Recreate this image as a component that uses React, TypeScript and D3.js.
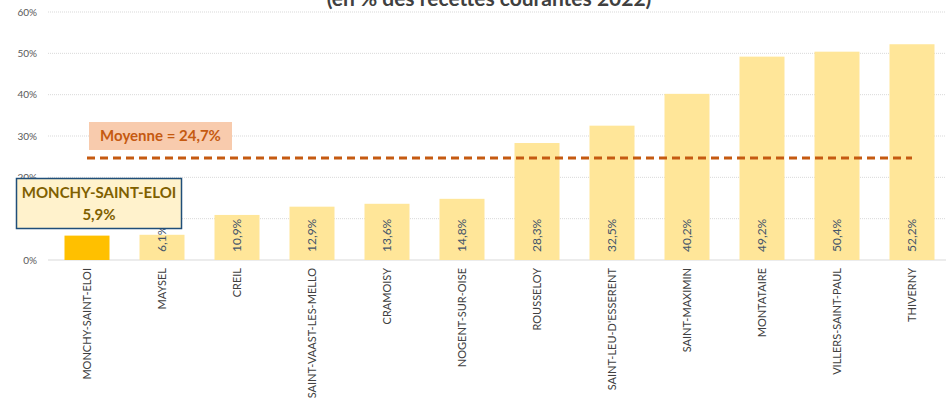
import React from "react";
import * as d3 from "d3";

const categories = [
  "MONCHY-SAINT-ELOI",
  "MAYSEL",
  "CREIL",
  "SAINT-VAAST-LES-MELLO",
  "CRAMOISY",
  "NOGENT-SUR-OISE",
  "ROUSSELOY",
  "SAINT-LEU-D'ESSERENT",
  "SAINT-MAXIMIN",
  "MONTATAIRE",
  "VILLERS-SAINT-PAUL",
  "THIVERNY",
];
const values = [5.9, 6.1, 10.9, 12.9, 13.6, 14.8, 28.3, 32.5, 40.2, 49.2, 50.4, 52.2];
const yTicks = [0, 10, 20, 30, 40, 50, 60];
const average = 24.7;
const highlighted = "MONCHY-SAINT-ELOI";
const title = "(en % des recettes courantes 2022)";

const W = 946;
const H = 406;
const FONT = "Lato, 'Open Sans', sans-serif";
const fmt = (v: number) => v.toFixed(1).replace(".", ",") + "%";

export default function App() {
  const x = d3.scaleBand<string>().domain(categories).range([49.5, 949.5]).paddingInner(0.4).paddingOuter(0.2);
  const y = d3.scaleLinear().domain([0, 60]).range([260, 12]);
  const bw = x.bandwidth();
  const cx = (c: string) => (x(c) as number) + bw / 2;
  const first = categories[0];
  const last = categories[categories.length - 1];

  return (
    <svg width={W} height={H} style={{ position: "absolute", left: 0, top: 0, background: "#fff" }} fontFamily={FONT}>
      <text x={489} y={6} textAnchor="middle" fontSize={21} fontWeight="bold" fill="#404040">{title}</text>
      {yTicks.map((t) => (
        <g key={t}>
          {t > 0 && (
            <line x1={48} x2={W} y1={y(t)} y2={y(t)} stroke="#d9d9d9" strokeWidth={1} strokeDasharray="1,1" />
          )}
          <text x={37} y={y(t)} dy="0.35em" textAnchor="end" fontSize={10} fill="#595959">{t}%</text>
        </g>
      ))}
      <line x1={48} x2={W} y1={y(0)} y2={y(0)} stroke="#d9d9d9" strokeWidth={1} />
      {categories.map((c, i) => (
        <rect key={c} x={x(c)} y={y(values[i])} width={bw} height={y(0) - y(values[i])} fill={c === highlighted ? "#FFC000" : "#FFE699"} />
      ))}
      {categories.map((c, i) =>
        c === highlighted ? null : (
          <text key={c} transform={`translate(${cx(c) + 4},${y(0) - 8}) rotate(-90)`} textAnchor="start" fontSize={12} fill="#44546A">{fmt(values[i])}</text>
        )
      )}
      {categories.map((c) => (
        <text key={c} transform={`translate(${cx(c) + 4},${y(0) + 8}) rotate(-90)`} textAnchor="end" fontSize={11} fill="#404040">{c}</text>
      ))}
      <line x1={cx(first)} x2={cx(last)} y1={y(average)} y2={y(average)} stroke="#C55A11" strokeWidth={3} strokeDasharray="8,5" />
      <rect x={89} y={122} width={143} height={28} fill="#F8CBAD" />
      <text x={160.5} y={136} dy="0.35em" textAnchor="middle" fontSize={15} fontWeight="bold" fill="#C55A11">Moyenne = {fmt(average)}</text>
      <rect x={16.5} y={178.5} width={165} height={50} fill="#FFF2CC" stroke="#1F4E79" strokeWidth={1.5} />
      <text x={99} y={193} dy="0.35em" textAnchor="middle" fontSize={15} fontWeight="bold" fill="#7F6000">{highlighted}</text>
      <text x={99} y={215} dy="0.35em" textAnchor="middle" fontSize={15} fontWeight="bold" fill="#7F6000">{fmt(values[0])}</text>
    </svg>
  );
}
